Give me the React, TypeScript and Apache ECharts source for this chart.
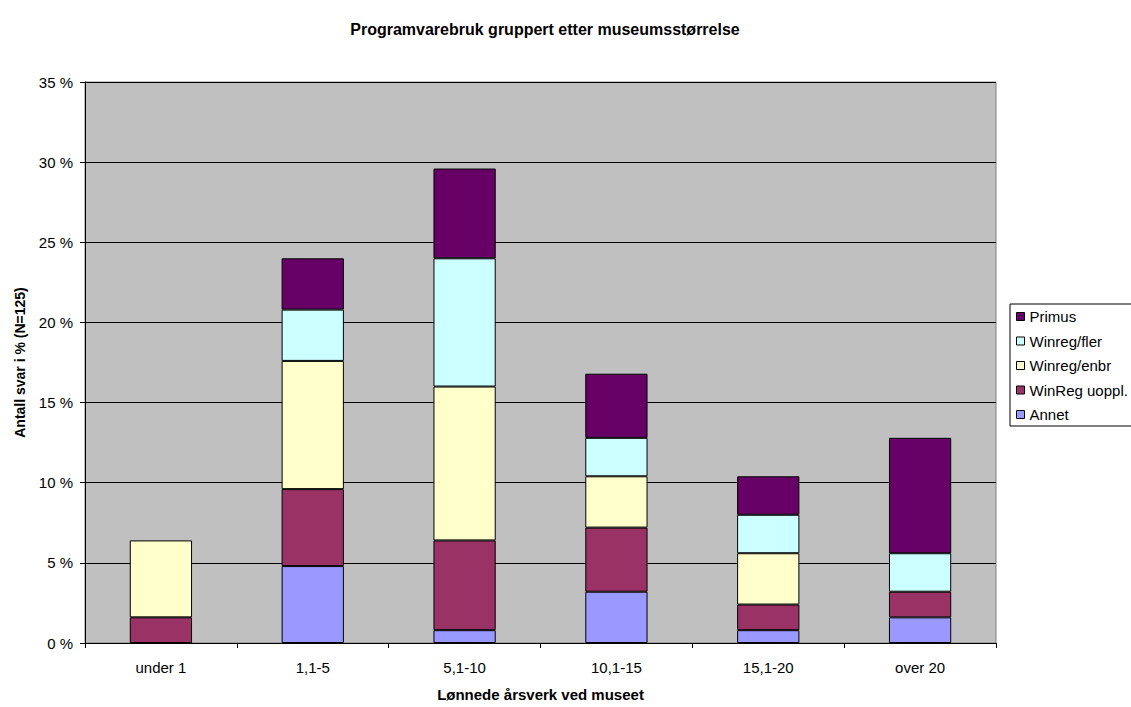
import React, { useEffect, useRef } from "react";
import * as echarts from "echarts";

const categories = ["under 1", "1,1-5", "5,1-10", "10,1-15", "15,1-20", "over 20"];
const annet = [0, 4.8, 0.8, 3.2, 0.8, 1.6];
const winregUoppl = [1.6, 4.8, 5.6, 4.0, 1.6, 1.6];
const winregEnbr = [4.8, 8.0, 9.6, 3.2, 3.2, 0];
const winregFler = [0, 3.2, 8.0, 2.4, 2.4, 2.4];
const primus = [0, 3.2, 5.6, 4.0, 2.4, 7.2];
const yTicks = [0, 5, 10, 15, 20, 25, 30, 35];

const seriesDefs = [
  { name: "Annet", data: annet, color: "#9999FF" },
  { name: "WinReg uoppl.", data: winregUoppl, color: "#993366" },
  { name: "Winreg/enbr", data: winregEnbr, color: "#FFFFCC" },
  { name: "Winreg/fler", data: winregFler, color: "#CCFFFF" },
  { name: "Primus", data: primus, color: "#660066" },
];

const FONT = "Liberation Sans, Arial, sans-serif";

export default function App() {
  const ref = useRef<HTMLDivElement>(null);
  useEffect(() => {
    if (!ref.current) return;
    const chart = echarts.init(ref.current, null, { renderer: "svg" });
    chart.setOption({
      animation: false,
      backgroundColor: "#ffffff",
      textStyle: { fontFamily: FONT },
      title: {
        text: "Programvarebruk gruppert etter museumsstørrelse",
        left: 540,
        textAlign: "center",
        top: 16,
        textStyle: { fontFamily: FONT, fontSize: 16, fontWeight: "bold", color: "#000" },
      },
      legend: {
        orient: "vertical",
        left: 1010,
        top: 304,
        data: ["Primus", "Winreg/fler", "Winreg/enbr", "WinReg uoppl.", "Annet"],
        backgroundColor: "#ffffff",
        borderColor: "#000",
        borderWidth: 1,
        borderRadius: 0,
        padding: [5, 10, 4, 6],
        itemWidth: 8,
        itemHeight: 8,
        itemGap: 9.5,
        icon: "rect",
        selectedMode: false,
        itemStyle: { borderColor: "#000", borderWidth: 1 },
        textStyle: { fontFamily: FONT, fontSize: 15, color: "#000" },
      },
      grid: {
        left: 85,
        top: 82,
        width: 911,
        height: 568,
        show: true,
        backgroundColor: "#C0C0C0",
        borderColor: "#808080",
        borderWidth: 1,
      },
      xAxis: {
        type: "category",
        data: categories,
        name: "Lønnede årsverk ved museet",
        nameLocation: "middle",
        nameGap: 44,
        nameTextStyle: { fontFamily: FONT, fontSize: 15, fontWeight: "bold", color: "#000" },
        axisLine: { lineStyle: { color: "#000", width: 1 } },
        axisTick: { show: true, alignWithLabel: false, length: 5, lineStyle: { color: "#000" } },
        axisLabel: { margin: 17, fontFamily: FONT, fontSize: 15, color: "#000" },
      },
      yAxis: {
        type: "value",
        min: yTicks[0],
        max: yTicks[yTicks.length - 1],
        interval: 5,
        name: "Antall svar i % (N=125)",
        nameLocation: "middle",
        nameGap: 58,
        nameTextStyle: { fontFamily: FONT, fontSize: 14, fontWeight: "bold", color: "#000" },
        axisLine: { show: true, lineStyle: { color: "#000", width: 1 } },
        axisTick: { show: true, length: 5, lineStyle: { color: "#000" } },
        axisLabel: { margin: 12, fontFamily: FONT, fontSize: 15, color: "#000", formatter: "{value} %" },
        splitLine: { show: true, lineStyle: { color: "#000", width: 1 } },
      },
      series: seriesDefs.map((s) => ({
        name: s.name,
        type: "bar",
        stack: "total",
        barWidth: "41%",
        data: s.data.map((v) => (v === 0 ? "-" : v)),
        itemStyle: { color: s.color, borderColor: "#000", borderWidth: 1 },
      })),
    });
    return () => chart.dispose();
  }, []);
  return (
    <div
      ref={ref}
      style={{ position: "absolute", left: 0, top: 0, width: 1131, height: 707 }}
    />
  );
}
